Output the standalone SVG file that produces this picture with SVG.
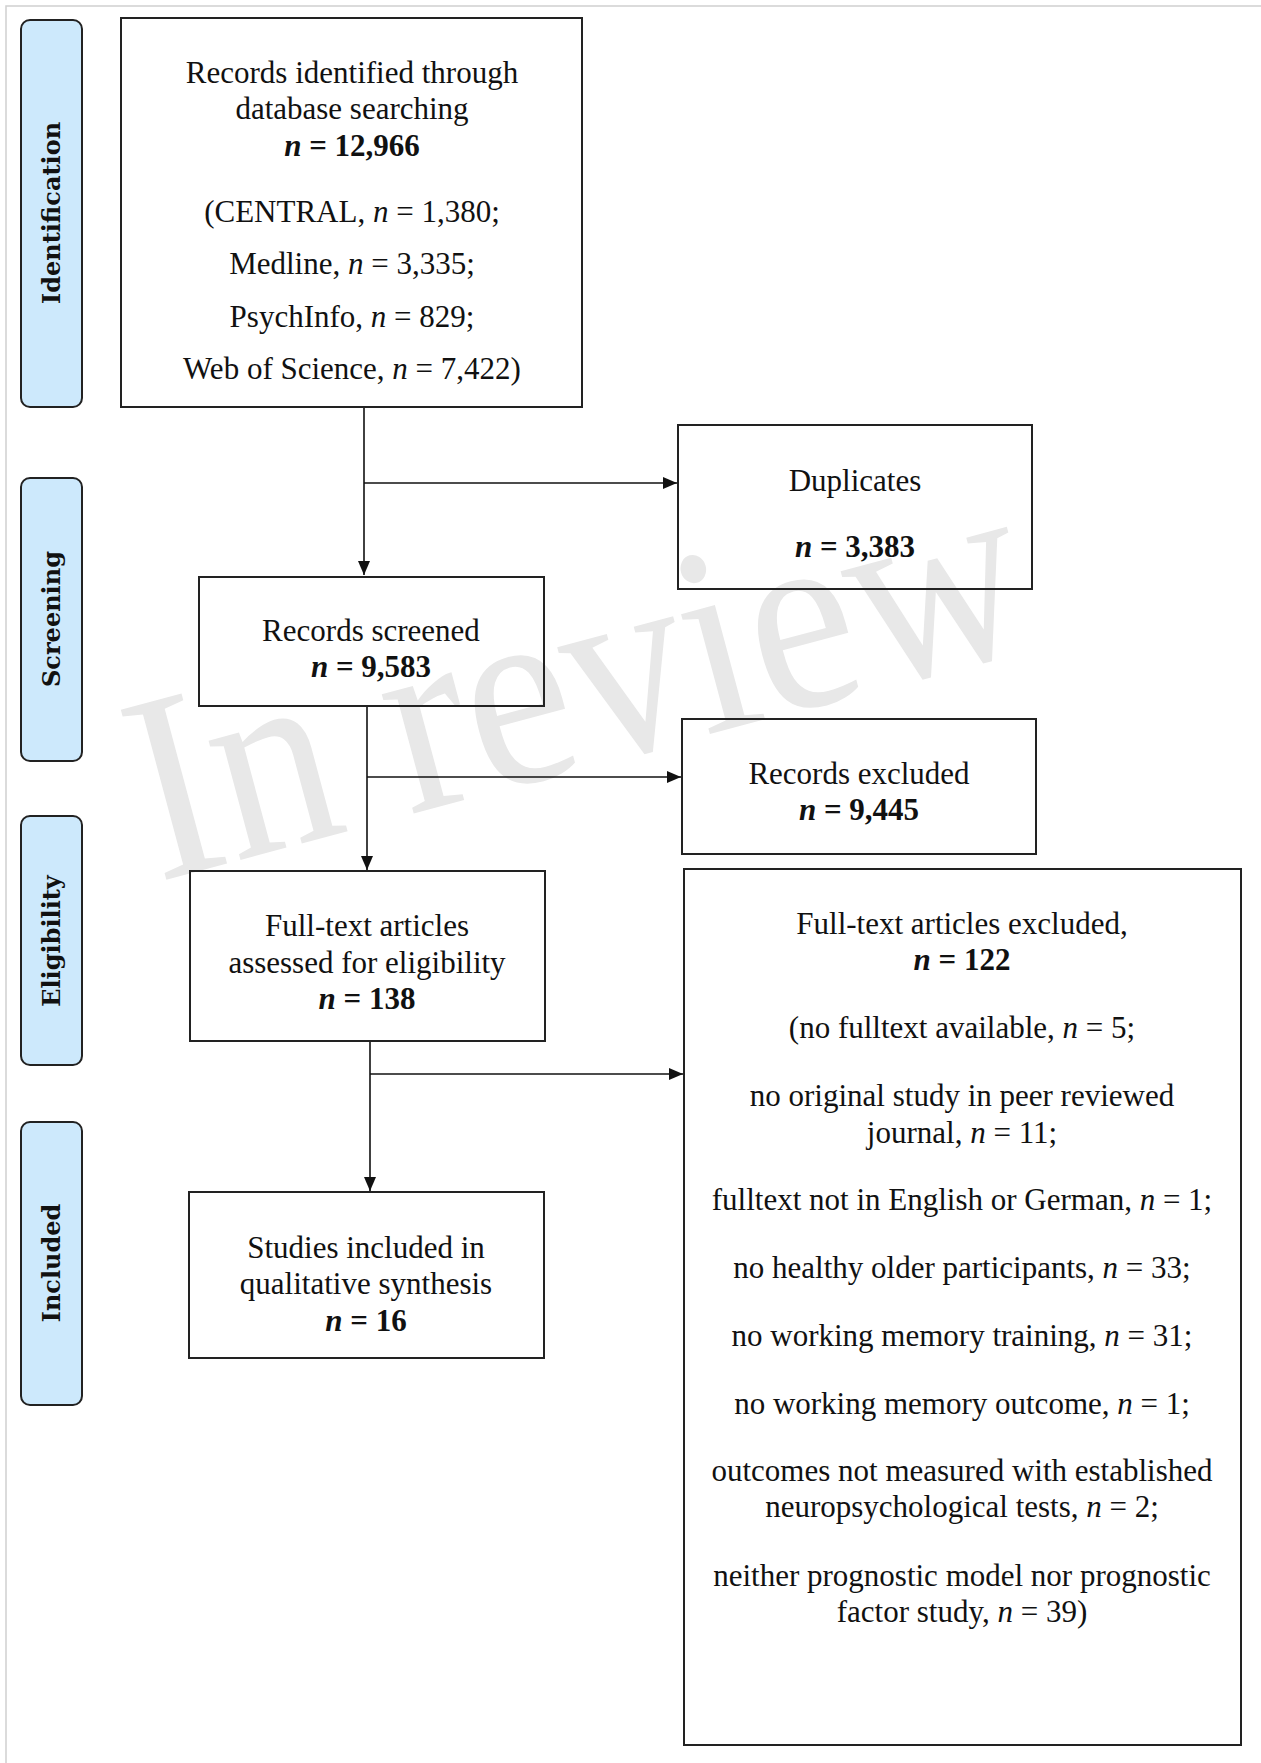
<svg xmlns="http://www.w3.org/2000/svg" width="1261" height="1763" viewBox="0 0 1261 1763">
<defs>
<marker id="arr" viewBox="0 0 14 12" refX="14" refY="6" markerWidth="14" markerHeight="12" markerUnits="userSpaceOnUse" orient="auto">
<path d="M0,0 L14,6 L0,12 z" fill="#111"/>
</marker>
</defs>
<style>
.frame{fill:none;stroke:#d0d0d0;stroke-width:1.5}
.lane{fill:#cde9fc;stroke:#222;stroke-width:2}
.lt{font-family:"DejaVu Serif",serif;font-weight:bold;font-size:24px;fill:#111;text-anchor:middle}
.box{fill:none;stroke:#222;stroke-width:2}
.t{font-family:"Liberation Serif","Times New Roman",serif;font-size:31px;fill:#111;text-anchor:middle}
.b{font-weight:bold}
.i{font-style:italic}
.con{stroke:#111;stroke-width:1.6;fill:none}
.wm{font-family:"Liberation Serif","Times New Roman",serif;font-size:240px;fill:#e8e8e8}
</style>
<rect x="0" y="0" width="1261" height="1763" fill="#fff"/>
<rect class="frame" x="6" y="6" width="1300" height="1800"/>
<text class="wm" x="0" y="0" transform="translate(158 882) rotate(-15) scale(1 1.12)">In review</text>

<g id="lane-identification"><rect class="lane" x="21" y="20" width="61" height="387" rx="9"/><text class="lt" transform="translate(60 213) rotate(-90)">Identification</text></g>
<g id="lane-screening"><rect class="lane" x="21" y="478" width="61" height="283" rx="9"/><text class="lt" transform="translate(60 619) rotate(-90)">Screening</text></g>
<g id="lane-eligibility"><rect class="lane" x="21" y="816" width="61" height="249" rx="9"/><text class="lt" transform="translate(60 941) rotate(-90)">Eligibility</text></g>
<g id="lane-included"><rect class="lane" x="21" y="1122" width="61" height="283" rx="9"/><text class="lt" transform="translate(60 1263) rotate(-90)">Included</text></g>

<g id="connectors">
<line class="con" x1="364" y1="407" x2="364" y2="575" marker-end="url(#arr)"/>
<line class="con" x1="364" y1="483" x2="677" y2="483" marker-end="url(#arr)"/>
<line class="con" x1="367" y1="706" x2="367" y2="870" marker-end="url(#arr)"/>
<line class="con" x1="367" y1="777" x2="681" y2="777" marker-end="url(#arr)"/>
<line class="con" x1="370" y1="1041" x2="370" y2="1191" marker-end="url(#arr)"/>
<line class="con" x1="370" y1="1074" x2="683" y2="1074" marker-end="url(#arr)"/>
</g>

<g id="identified"><rect class="box" x="121" y="18" width="461" height="389"/>
<text class="t" x="352" y="83">Records identified through</text>
<text class="t" x="352" y="119">database searching</text>
<text class="t b" x="352" y="156"><tspan class="i">n</tspan> = 12,966</text>
<text class="t" x="352" y="222">(CENTRAL, <tspan class="i">n</tspan> = 1,380;</text>
<text class="t" x="352" y="274">Medline, <tspan class="i">n</tspan> = 3,335;</text>
<text class="t" x="352" y="327">PsychInfo, <tspan class="i">n</tspan> = 829;</text>
<text class="t" x="352" y="379">Web of Science, <tspan class="i">n</tspan> = 7,422)</text>
</g>

<g id="duplicates"><rect class="box" x="678" y="425" width="354" height="164"/>
<text class="t" x="855" y="491">Duplicates</text>
<text class="t b" x="855" y="557"><tspan class="i">n</tspan> = 3,383</text>
</g>

<g id="screened"><rect class="box" x="199" y="577" width="345" height="129"/>
<text class="t" x="371" y="641">Records screened</text>
<text class="t b" x="371" y="677"><tspan class="i">n</tspan> = 9,583</text>
</g>

<g id="excluded"><rect class="box" x="682" y="719" width="354" height="135"/>
<text class="t" x="859" y="784">Records excluded</text>
<text class="t b" x="859" y="820"><tspan class="i">n</tspan> = 9,445</text>
</g>

<g id="assessed"><rect class="box" x="190" y="871" width="355" height="170"/>
<text class="t" x="367" y="936">Full-text articles</text>
<text class="t" x="367" y="973">assessed for eligibility</text>
<text class="t b" x="367" y="1009"><tspan class="i">n</tspan> = 138</text>
</g>

<g id="included"><rect class="box" x="189" y="1192" width="355" height="166"/>
<text class="t" x="366" y="1258">Studies included in</text>
<text class="t" x="366" y="1294">qualitative synthesis</text>
<text class="t b" x="366" y="1331"><tspan class="i">n</tspan> = 16</text>
</g>

<g id="ft-excluded"><rect class="box" x="684" y="869" width="557" height="876"/>
<text class="t" x="962" y="934">Full-text articles excluded,</text>
<text class="t b" x="962" y="970"><tspan class="i">n</tspan> = 122</text>
<text class="t" x="962" y="1038">(no fulltext available, <tspan class="i">n</tspan> = 5;</text>
<text class="t" x="962" y="1106">no original study in peer reviewed</text>
<text class="t" x="962" y="1143">journal, <tspan class="i">n</tspan> = 11;</text>
<text class="t" x="962" y="1210">fulltext not in English or German, <tspan class="i">n</tspan> = 1;</text>
<text class="t" x="962" y="1278">no healthy older participants, <tspan class="i">n</tspan> = 33;</text>
<text class="t" x="962" y="1346">no working memory training, <tspan class="i">n</tspan> = 31;</text>
<text class="t" x="962" y="1414">no working memory outcome, <tspan class="i">n</tspan> = 1;</text>
<text class="t" x="962" y="1481">outcomes not measured with established</text>
<text class="t" x="962" y="1517">neuropsychological tests, <tspan class="i">n</tspan> = 2;</text>
<text class="t" x="962" y="1586">neither prognostic model nor prognostic</text>
<text class="t" x="962" y="1622">factor study, <tspan class="i">n</tspan> = 39)</text>
</g>
</svg>
